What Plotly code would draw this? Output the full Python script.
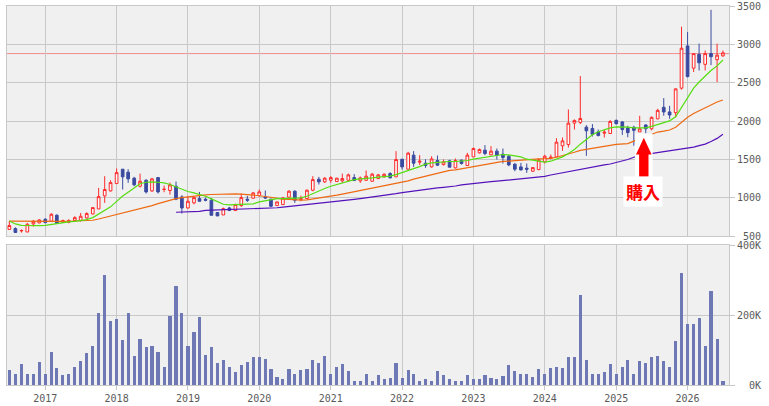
import pandas as pd
import plotly.graph_objects as go

# ---------------- data (monthly, Jul 2016 .. Jul 2026) ----------------
start_month = "2016-07-01"
n_months = 121

open_ = [590, 600, 570, 556, 661, 674, 722, 696, 774, 682,
         682, 704, 708, 739, 791, 856, 1026, 1091, 1187, 1374,
         1335, 1257, 1152, 1230, 1091, 1265, 1109, 1096, 1152, 1013,
         869, 935, 991, 983, 970, 809, 778, 869, 835, 900,
         983, 996, 1030, 1013, 983, 900, 913, 1009, 1087, 978,
         991, 1100, 1243, 1209, 1230, 1213, 1222, 1230, 1265, 1222,
         1230, 1217, 1252, 1274, 1317, 1274, 1504, 1374, 1557, 1465,
         1452, 1404, 1487, 1434, 1483, 1391, 1491, 1422, 1535, 1587,
         1622, 1561, 1609, 1570, 1543, 1439, 1404, 1387, 1348, 1369,
         1470, 1517, 1535, 1678, 1696, 1974, 1983, 1922, 1904, 1861,
         1843, 1839, 2010, 1990, 1910, 1920, 1860, 1950, 1900, 2030,
         2180, 2120, 2110, 2430, 2980, 2690, 2870, 2740, 2880, 2800,
         2850]
high = [700, 617, 590, 674, 713, 722, 735, 800, 787, 717,
        722, 761, 804, 813, 874, 1130, 1283, 1230, 1383, 1374,
        1374, 1274, 1317, 1243, 1261, 1265, 1161, 1200, 1213, 1035,
        1026, 1013, 1078, 1004, 1000, 813, 874, 883, 926, 1057,
        1026, 1078, 1109, 1096, 991, 948, 1013, 1100, 1100, 1030,
        1109, 1283, 1274, 1270, 1283, 1261, 1317, 1317, 1309, 1278,
        1357, 1326, 1312, 1321, 1334, 1609, 1504, 1600, 1609, 1557,
        1504, 1543, 1552, 1500, 1496, 1513, 1500, 1587, 1656, 1643,
        1687, 1674, 1643, 1643, 1556, 1452, 1456, 1448, 1400, 1513,
        1561, 1565, 1778, 1787, 2152, 2022, 2587, 1948, 1961, 1891,
        1891, 2013, 2020, 2000, 1940, 1940, 2070, 1960, 2060, 2160,
        2300, 2200, 2430, 3230, 3160, 2880, 3010, 2920, 3450, 3010,
        2920]
low = [585, 543, 548, 555, 626, 670, 670, 691, 669, 674,
       669, 691, 691, 730, 787, 856, 935, 1083, 1187, 1109,
       1196, 1152, 1135, 1057, 1078, 1057, 1074, 1043, 970, 796,
       861, 917, 956, 956, 774, 765, 778, 830, 830, 883,
       948, 991, 1017, 987, 883, 900, 909, 1004, 935, 956,
       987, 1087, 1174, 1196, 1196, 1209, 1200, 1217, 1222, 1196,
       1222, 1213, 1245, 1265, 1256, 1274, 1369, 1374, 1404, 1426,
       1391, 1395, 1417, 1422, 1400, 1382, 1434, 1422, 1535, 1578,
       1556, 1556, 1500, 1448, 1413, 1348, 1356, 1326, 1339, 1361,
       1448, 1504, 1535, 1613, 1656, 1891, 1961, 1548, 1800, 1800,
       1787, 1835, 1960, 1820, 1790, 1680, 1860, 1840, 1880, 2025,
       2070, 2030, 2050, 2410, 2570, 2640, 2660, 2660, 2730, 2510,
       2840]
close = [640, 550, 575, 656, 695, 713, 678, 787, 669, 704,
         704, 743, 761, 796, 874, 1017, 1109, 1200, 1330, 1274,
         1248, 1170, 1217, 1078, 1248, 1078, 1113, 1170, 983, 869,
         956, 1004, 956, 970, 774, 765, 861, 835, 913, 1004,
         970, 1065, 1078, 1000, 891, 948, 1000, 1087, 970, 991,
         1100, 1239, 1209, 1257, 1265, 1257, 1252, 1300, 1226, 1261,
         1283, 1309, 1300, 1308, 1261, 1500, 1404, 1583, 1452, 1478,
         1422, 1508, 1426, 1469, 1400, 1487, 1448, 1557, 1643, 1630,
         1578, 1609, 1556, 1526, 1430, 1374, 1365, 1374, 1395, 1496,
         1543, 1530, 1726, 1743, 1974, 2009, 2035, 1874, 1830, 1813,
         1856, 1996, 1965, 1890, 1850, 1880, 1900, 1900, 2050, 2140,
         2120, 2080, 2420, 2950, 2580, 2880, 2760, 2880, 2840, 2860,
         2890]

ma_short = [700, 661, 643, 639, 639, 639, 643, 656, 665, 678,
            687, 695, 704, 717, 743, 787, 830, 883, 955, 1025,
            1075, 1135, 1185, 1204, 1209, 1204, 1196, 1174, 1143, 1109,
            1083, 1065, 1043, 1022, 987, 948, 917, 909, 913, 913,
            917, 922, 948, 965, 983, 991, 991, 996, 996, 1000,
            1022, 1057, 1091, 1122, 1152, 1174, 1196, 1222, 1239, 1248,
            1252, 1261, 1270, 1278, 1283, 1304, 1334, 1361, 1382, 1408,
            1439, 1456, 1465, 1469, 1474, 1474, 1478, 1487, 1504, 1517,
            1530, 1543, 1556, 1565, 1561, 1552, 1535, 1504, 1490, 1470,
            1465, 1478, 1504, 1535, 1578, 1630, 1700, 1760, 1822, 1862,
            1891, 1913, 1926, 1926, 1922, 1913, 1909, 1913, 1931, 1957,
            1985, 2004, 2057, 2180, 2320, 2430, 2510, 2590, 2660, 2720,
            2796]
ma_mid = [697, 696, 694, 693, 692, 692, 693, 694, 695, 695,
          696, 697, 699, 702, 709, 725, 744, 763, 783, 803,
          822, 842, 861, 880, 900, 925, 948, 970, 991, 1003,
          1013, 1025, 1035, 1040, 1044, 1048, 1050, 1052, 1052, 1050,
          1045, 1035, 1028, 1018, 1005, 995, 985, 980, 975, 972,
          975, 985, 995, 1005, 1020, 1035, 1050, 1065, 1080, 1095,
          1110, 1125, 1140, 1155, 1170, 1185, 1205, 1222, 1245, 1265,
          1285, 1305, 1325, 1345, 1358, 1365, 1380, 1395, 1410, 1425,
          1440, 1455, 1465, 1475, 1480, 1487, 1495, 1500, 1505, 1508,
          1510, 1515, 1530, 1550, 1570, 1595, 1620, 1635, 1645, 1655,
          1670, 1685, 1698, 1703, 1708, 1740, 1770, 1800, 1835, 1858,
          1870, 1885, 1920, 1990, 2050, 2100, 2135, 2175, 2215, 2250,
          2275]
ma_long = [None] * 28 + [
    813, 815,
    818, 820, 825, 838, 840, 842, 845, 847, 850, 853,
    856, 858, 860, 862, 865, 872, 880, 888, 895, 902,
    909, 918, 926, 935, 945, 952, 962, 970, 980, 990,
    1000, 1008, 1017, 1025, 1040, 1055, 1068, 1080, 1088, 1100,
    1112, 1122, 1130, 1138, 1145, 1155, 1170, 1180, 1188, 1195,
    1205, 1212, 1218, 1225, 1230, 1240, 1248, 1255, 1262, 1270,
    1280, 1298, 1312, 1328, 1345, 1362, 1378, 1395, 1405, 1418,
    1430, 1442, 1461, 1480, 1500, 1530, 1555, 1568, 1580, 1592,
    1600, 1612, 1622, 1638, 1650, 1662, 1680, 1700, 1735, 1775,
    1828]

volume_k = [41, 32, 58, 32, 30, 64, 30, 95, 47, 27,
            30, 50, 67, 90, 112, 204, 315, 181, 189, 129,
            204, 81, 132, 107, 110, 95, 50, 198, 284, 204,
            112, 150, 195, 84, 107, 61, 72, 50, 35, 55,
            64, 78, 78, 75, 44, 21, 15, 44, 32, 41,
            44, 72, 61, 81, 30, 50, 58, 38, 12, 10,
            30, 12, 27, 15, 18, 61, 18, 41, 30, 12,
            15, 10, 38, 27, 15, 12, 12, 27, 15, 15,
            27, 18, 15, 24, 55, 38, 32, 30, 21, 44,
            30, 47, 50, 47, 78, 78, 258, 70, 32, 32,
            35, 58, 32, 50, 72, 32, 67, 61, 78, 81,
            67, 52, 124, 321, 175, 175, 192, 112, 269, 132,
            10]

price_ticks = [500, 1000, 1500, 2000, 2500, 3000, 3500]
volume_ticks = [0, 200, 400]
reference_price = 2880
buy_date = "2025-05-22"
buy_label = "購入"

months = pd.date_range(start_month, periods=n_months, freq="MS")

# ---------------- styling ----------------
GRID = "#c8c8c8"
BG = "#f0f0f0"
TICKFONT = dict(family="DejaVu Sans Mono", size=10, color="#5a5a5a")
NB = "\u00a0"

def pad(s, w=4):
    return NB * (w - len(s)) + s

fig = go.Figure()

fig.add_trace(go.Scatter(x=months, y=ma_long, mode="lines",
                         line=dict(color="#5512bb", width=1.2), xaxis="x", yaxis="y",
                         showlegend=False, hoverinfo="skip"))
fig.add_trace(go.Scatter(x=months, y=ma_mid, mode="lines",
                         line=dict(color="#ee6a12", width=1.2), xaxis="x", yaxis="y",
                         showlegend=False, hoverinfo="skip"))
fig.add_trace(go.Scatter(x=months, y=ma_short, mode="lines",
                         line=dict(color="#55dd11", width=1.2), xaxis="x", yaxis="y",
                         showlegend=False, hoverinfo="skip"))

fig.add_trace(go.Candlestick(
    x=months, open=open_, high=high, low=low, close=close,
    xaxis="x", yaxis="y", showlegend=False,
    increasing=dict(line=dict(color="#ff2a2a", width=1), fillcolor="#fafafa"),
    decreasing=dict(line=dict(color="#3a4aa0", width=1), fillcolor="#3a4aa0"),
    whiskerwidth=0,
))

fig.add_trace(go.Bar(x=months, y=volume_k, xaxis="x2", yaxis="y2",
                     marker=dict(color="#6e78b4", line=dict(width=0)),
                     width=1.4e9, showlegend=False))

# ---------------- annotation (buy arrow) ----------------
c = pd.Timestamp(buy_date)
d = lambda days: (c + pd.Timedelta(days=days)).strftime("%Y-%m-%d")
shaft_bottom, head_base, tip = 1274, 1566, 1783
arrow_path = (f"M{d(-24)},{shaft_bottom} L{d(-24)},{head_base} L{d(-40)},{head_base} "
              f"L{d(0)},{tip} L{d(40)},{head_base} L{d(24)},{head_base} L{d(24)},{shaft_bottom} Z")

shapes = [
    dict(type="line", xref="paper", yref="y", x0=0, x1=1, y0=reference_price, y1=reference_price,
         line=dict(color="#f08c8c", width=1), layer="below"),
    dict(type="rect", xref="x", yref="y", x0=d(-45), x1=d(45), y0=1253, y1=1840,
         fillcolor="white", line=dict(width=0), layer="above"),
    dict(type="path", xref="x", yref="y", path=arrow_path,
         fillcolor="#ff0000", line=dict(width=0), layer="above"),
]

annotations = [
    dict(x=d(-4), y=1088, xref="x", yref="y", text=f"<b>{buy_label}</b>", showarrow=False,
         font=dict(family="Noto Sans CJK JP", size=17, color="#ff0000"),
         bgcolor="white", borderpad=2, xanchor="center", yanchor="middle"),
]

x_range = ["2016-06-19", "2026-08-01"]

common_axis = dict(showgrid=True, gridcolor=GRID, gridwidth=1, showline=True,
                   linecolor=GRID, linewidth=1, mirror=True, zeroline=False,
                   automargin=False)

fig.update_layout(
    width=769, height=406,
    margin=dict(l=7, r=40, t=6, b=21, autoexpand=False),
    paper_bgcolor="white", plot_bgcolor=BG,
    showlegend=False,
    shapes=shapes, annotations=annotations,
    bargap=0,
    xaxis=dict(domain=[0, 1], anchor="y", range=x_range, type="date",
               showticklabels=False, tick0="2017-01-01", dtick="M12", ticks="",
               rangeslider=dict(visible=False), **common_axis),
    yaxis=dict(domain=[0.3924, 1.0], anchor="x", range=[500, 3500], side="right",
               tickvals=price_ticks, ticktext=[pad(str(v)) for v in price_ticks],
               tickfont=TICKFONT, ticks="outside", ticklen=5, tickcolor=GRID,
               **common_axis),
    xaxis2=dict(domain=[0, 1], anchor="y2", range=x_range, type="date", matches="x",
                tick0="2017-01-01", dtick="M12", tickformat="%Y", tickfont=TICKFONT,
                ticks="outside", ticklen=4, tickcolor=GRID, **common_axis),
    yaxis2=dict(domain=[0, 0.3686], anchor="x2", range=[0, 400], side="right",
                tickvals=volume_ticks, ticktext=[pad(f"{v}K") for v in volume_ticks],
                tickfont=TICKFONT, ticks="outside", ticklen=5, tickcolor=GRID,
                **common_axis),
)

fig.write_html("out.html")
